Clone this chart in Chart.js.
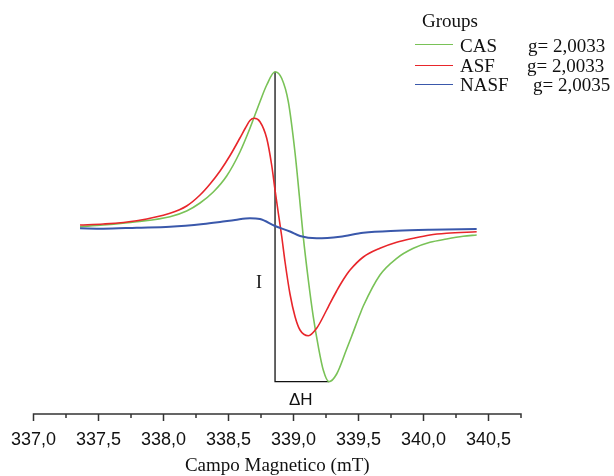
<!DOCTYPE html>
<html>
<head>
<meta charset="utf-8">
<script src="https://cdn.jsdelivr.net/npm/chart.js@4"></script>
<style>
  html, body { margin: 0; padding: 0; background: #fff; }
  #wrap { position: relative; width: 614px; height: 476px; overflow: hidden; }
  #wrap canvas { position: absolute; left: 0; top: 0; }
  .lbl { position: absolute; white-space: nowrap; color: #111; }
  .serif { font-family: 'Liberation Serif', 'Times New Roman', serif; font-size: 19px; line-height: 19px; }
  .sample { position: absolute; width: 38px; height: 0; border-top: 1.5px solid; }
</style>
</head>
<body>
<div id="wrap">
  <canvas id="epr" width="614" height="476"></canvas>

  <div class="lbl serif" style="left:422px; top:11px;">Groups</div>

  <div class="sample" style="left:415px; top:44px; border-color:#79c257;"></div>
  <div class="lbl serif" style="left:460px; top:36px;">CAS</div>
  <div class="lbl serif" style="left:528px; top:36px;">g=&nbsp;2,0033</div>

  <div class="sample" style="left:415px; top:65px; border-color:#e8262b;"></div>
  <div class="lbl serif" style="left:460px; top:56px;">ASF</div>
  <div class="lbl serif" style="left:527px; top:56px;">g=&nbsp;2,0033</div>

  <div class="sample" style="left:415px; top:84px; border-color:#3a58ab;"></div>
  <div class="lbl serif" style="left:460px; top:75px;">NASF</div>
  <div class="lbl serif" style="left:533px; top:75px;">g=&nbsp;2,0035</div>

  <div class="lbl" style="left:256px; top:273px; font-family:'Liberation Serif', serif; font-size:18px; line-height:18px;">I</div>
  <div class="lbl" style="left:289px; top:391px; font-family:'Liberation Sans', Arial, sans-serif; font-size:17px; line-height:17px;">ΔH</div>
</div>

<script>
(function () {
    'use strict';

    // =================== Datos ===================

    // Campo magnético (mT) e intensidad (u.a., línea base = 0)
    const casField = [337.358, 337.537, 337.794, 338.050, 338.178, 338.281, 338.383, 338.486, 338.588,
        338.665, 338.742, 338.794, 338.858, 338.909, 338.960, 339.012, 339.045, 339.075, 339.114,
        339.152, 339.191, 339.229, 339.273, 339.332, 339.409, 339.448, 339.512, 339.537, 339.665,
        339.794, 339.922, 340.050, 340.178, 340.306, 340.409];
    const casSignal = [2.3, 4, 7.3, 12.3, 18, 26, 37, 53, 77,
        100.7, 127.3, 144, 157.3, 150.7, 127.3, 76, 33, -7.7, -51,
        -87.7, -117.7, -141, -152.7, -145, -120, -107, -85, -77, -46,
        -29.3, -19.3, -13.3, -10, -7.3, -6];

    const asfField = [337.358, 337.537, 337.794, 338.050, 338.178, 338.281, 338.358, 338.435, 338.512,
        338.588, 338.630, 338.665, 338.698, 338.742, 338.794, 338.832, 338.858, 338.883, 338.909,
        338.935, 338.973, 339.012, 339.050, 339.114, 339.178, 339.255, 339.281, 339.332, 339.358,
        339.409, 339.435, 339.537, 339.665, 339.794, 339.922, 340.050, 340.178, 340.409];
    const asfSignal = [4, 5, 8.3, 15.7, 23, 34, 45, 58, 73.5,
        91, 101, 108.5, 110.7, 107.3, 90.7, 64, 39, 16, -7,
        -33, -65, -87.7, -101, -106.7, -99.3, -81, -74.3, -62, -56,
        -45.5, -41, -28, -19.3, -13.3, -9.3, -6, -4.3, -2.7];

    const nasfField = [337.358, 337.537, 337.794, 338.050, 338.306, 338.435, 338.550, 338.665, 338.742,
        338.858, 338.973, 339.050, 339.178, 339.358, 339.537, 339.794, 340.050, 340.409];
    const nasfSignal = [0.7, 0.3, 1.3, 2.3, 5, 7, 9, 10.7, 10,
        3, -2.5, -7, -9.3, -7.7, -3.8, -1.7, -0.7, 0];

    const majorTicks = [337.0, 337.5, 338.0, 338.5, 339.0, 339.5, 340.0, 340.5];
    const minorTicks = [337.25, 337.75, 338.25, 338.75, 339.25, 339.75, 340.25, 340.75];

    const xAxisTitle = 'Campo Magnetico (mT)';

    // =================== Helpers ===================

    function toPoints(xs, ys) {
        return xs.map((x, i) => ({ x: x, y: ys[i] }));
    }

    // Marcador I / ΔH: del máximo al mínimo de la curva CAS
    function deltaMarker(xs, ys) {
        let iMax = 0, iMin = 0;
        ys.forEach((v, i) => {
            if (v > ys[iMax]) iMax = i;
            if (v < ys[iMin]) iMin = i;
        });
        return [
            { x: xs[iMax], y: ys[iMax] },
            { x: xs[iMax], y: ys[iMin] },
            { x: xs[iMin], y: ys[iMin] }
        ];
    }

    function fmt(v) {
        return Number(v).toFixed(1).replace('.', ',');
    }

    // Eje inferior con marcas mayores y menores
    const axisPlugin = {
        id: 'axisTicks',
        afterDatasetsDraw(chart) {
            const sx = chart.scales.x;
            const y0 = chart.chartArea.bottom;
            const ctx = chart.ctx;
            ctx.save();
            ctx.strokeStyle = '#333';
            ctx.lineWidth = 1.5;
            ctx.beginPath();
            ctx.moveTo(sx.getPixelForValue(majorTicks[0]) - 0.75, y0);
            ctx.lineTo(sx.getPixelForValue(minorTicks[minorTicks.length - 1]) + 0.75, y0);
            majorTicks.forEach(v => {
                const px = sx.getPixelForValue(v);
                ctx.moveTo(px, y0);
                ctx.lineTo(px, y0 + 7);
            });
            minorTicks.forEach(v => {
                const px = sx.getPixelForValue(v);
                ctx.moveTo(px, y0);
                ctx.lineTo(px, y0 + 4);
            });
            ctx.stroke();
            ctx.restore();
        }
    };

    // =================== Chart ===================

    const line = {
        pointRadius: 0,
        fill: false,
        cubicInterpolationMode: 'monotone'
    };

    new Chart(document.getElementById('epr'), {
        type: 'line',
        data: {
            datasets: [
                Object.assign({ label: 'NASF', data: toPoints(nasfField, nasfSignal), borderColor: '#3a58ab', borderWidth: 2 }, line),
                Object.assign({ label: 'ASF', data: toPoints(asfField, asfSignal), borderColor: '#e8262b', borderWidth: 1.6 }, line),
                Object.assign({ label: 'CAS', data: toPoints(casField, casSignal), borderColor: '#79c257', borderWidth: 1.6 }, line),
                {
                    label: 'ΔH',
                    data: deltaMarker(casField, casSignal),
                    borderColor: '#111',
                    borderWidth: 1.3,
                    pointRadius: 0,
                    tension: 0
                }
            ]
        },
        options: {
            responsive: false,
            animation: false,
            layout: { padding: { left: 33.5, right: 93, top: 29, bottom: 0 } },
            plugins: {
                legend: { display: false },
                tooltip: { enabled: false }
            },
            scales: {
                x: {
                    type: 'linear',
                    min: 337.0,
                    max: 340.75,
                    afterBuildTicks: s => { s.ticks = majorTicks.map(v => ({ value: v })); },
                    afterFit: s => {
                        s.height = 62;
                        // sin relleno extra por las etiquetas de los extremos
                        s.paddingLeft = 0;
                        s.paddingRight = 0;
                    },
                    grid: { display: false },
                    border: { display: false },
                    ticks: {
                        padding: 7,
                        maxRotation: 0,
                        autoSkip: false,
                        color: '#111',
                        font: { family: "'Liberation Sans', Arial, sans-serif", size: 18 },
                        callback: v => fmt(v)
                    },
                    title: {
                        display: true,
                        text: xAxisTitle,
                        color: '#111',
                        padding: 0,
                        font: { family: "'Liberation Serif', 'Times New Roman', serif", size: 19, lineHeight: 1 }
                    }
                },
                y: {
                    display: false,
                    min: -185,
                    max: 200
                }
            }
        },
        plugins: [axisPlugin]
    });
})();
</script>
</body>
</html>
